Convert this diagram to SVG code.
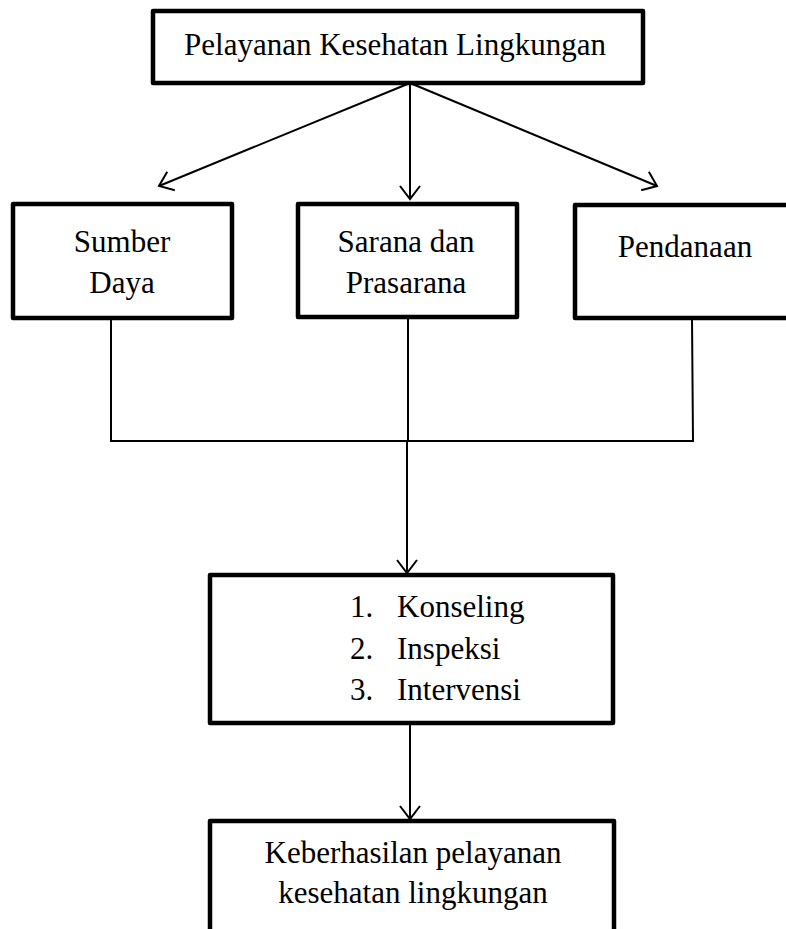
<svg xmlns="http://www.w3.org/2000/svg" width="786" height="929" viewBox="0 0 786 929">
<style>
.box{fill:#fff;stroke:#000;stroke-width:4.5;stroke-linejoin:round}
.line{fill:none;stroke:#000;stroke-width:2}
text{font-family:"Liberation Serif","Times New Roman",serif;font-size:31px;fill:#000}
.c{text-anchor:middle}
</style>
<defs>
<marker id="arr" markerUnits="userSpaceOnUse" viewBox="-14 -11 16 22" markerWidth="16" markerHeight="22" refX="0" refY="0" orient="auto">
<path d="M-13,-10 L0,0 L-13,10" fill="none" stroke="#000" stroke-width="2"/>
</marker>
</defs>
<rect width="786" height="929" fill="#fff"/>
<g id="connectors">
<line class="line" x1="410" y1="83" x2="159" y2="186" marker-end="url(#arr)"/>
<line class="line" x1="410" y1="83" x2="410" y2="199" marker-end="url(#arr)"/>
<line class="line" x1="410" y1="83" x2="657" y2="186" marker-end="url(#arr)"/>
<polyline class="line" points="111,318 111,441 693,441 692,318"/>
<line class="line" x1="408" y1="318" x2="408" y2="441"/>
<line class="line" x1="407" y1="441" x2="407" y2="573" marker-end="url(#arr)"/>
<line class="line" x1="410" y1="723" x2="410" y2="819" marker-end="url(#arr)"/>
</g>
<g id="n-top">
<rect class="box" x="153" y="11" width="490" height="72"/>
<text class="c" x="395" y="55">Pelayanan Kesehatan Lingkungan</text>
</g>
<g id="n-sumber">
<rect class="box" x="13" y="204" width="219" height="114"/>
<text class="c" x="122" y="252">Sumber</text>
<text class="c" x="122" y="293">Daya</text>
</g>
<g id="n-sarana">
<rect class="box" x="298" y="204" width="219" height="113"/>
<text class="c" x="406" y="252">Sarana dan</text>
<text class="c" x="406" y="293">Prasarana</text>
</g>
<g id="n-pendanaan">
<rect class="box" x="575" y="205" width="220" height="113"/>
<text class="c" x="685" y="257">Pendanaan</text>
</g>
<g id="n-kegiatan">
<rect class="box" x="210" y="575" width="403" height="148"/>
<text x="350" y="617">1.</text><text x="397" y="617">Konseling</text>
<text x="350" y="659">2.</text><text x="397" y="659">Inspeksi</text>
<text x="350" y="700">3.</text><text x="397" y="700">Intervensi</text>
</g>
<g id="n-hasil">
<rect class="box" x="210" y="821" width="404" height="140"/>
<text class="c" x="413" y="863">Keberhasilan pelayanan</text>
<text class="c" x="413" y="903">kesehatan lingkungan</text>
</g>
</svg>
